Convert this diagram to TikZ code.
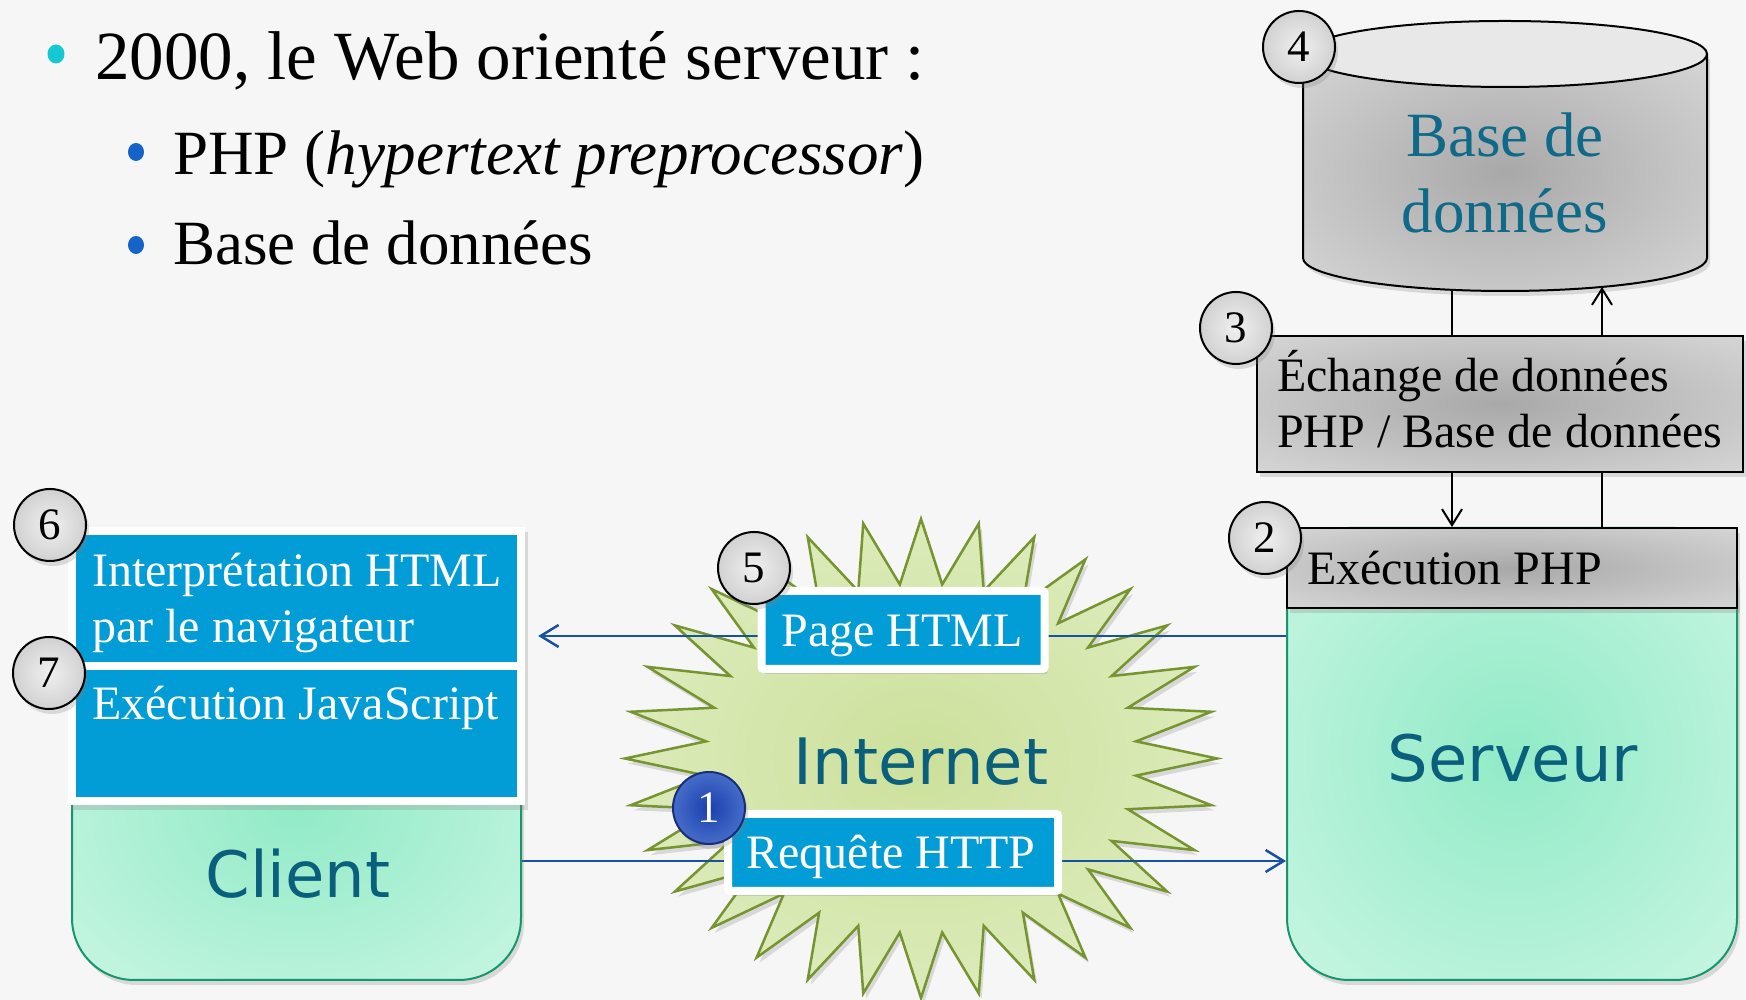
\documentclass[tikz,border=0pt]{standalone}
\usepackage{fontspec}
\setmainfont{Liberation Serif}
\newfontfamily\sansf{DejaVu Sans}
\usetikzlibrary{arrows.meta,shadows,calc}

\definecolor{bgc}{RGB}{246,246,246}
\definecolor{cyanb}{RGB}{20,200,212}
\definecolor{blueb}{RGB}{20,100,200}
\definecolor{tealtxt}{RGB}{10,96,124}
\definecolor{dbteal}{RGB}{14,106,136}
\definecolor{boxblue}{RGB}{2,157,214}
\definecolor{arrowblue}{RGB}{25,80,160}
\definecolor{greenborder}{RGB}{22,150,110}
\definecolor{starline}{RGB}{118,148,48}
\definecolor{navyb}{RGB}{25,45,120}

\pgfdeclareradialshading{grayrad}{\pgfpoint{0bp}{0bp}}{rgb(0bp)=(0.66,0.66,0.66); rgb(50bp)=(0.91,0.91,0.91)}
\pgfdeclareradialshading{ballsh}{\pgfpoint{0bp}{0bp}}{rgb(0bp)=(0.94,0.94,0.94); rgb(25bp)=(0.82,0.82,0.82); rgb(50bp)=(0.58,0.58,0.58)}
\pgfdeclareradialshading{blueball}{\pgfpoint{0bp}{0bp}}{rgb(0bp)=(0.1,0.25,0.68); rgb(50bp)=(0.45,0.6,0.9)}
\pgfdeclareradialshading{starrad}{\pgfpoint{0bp}{0bp}}{rgb(0bp)=(0.80,0.88,0.61); rgb(50bp)=(0.925,0.96,0.845)}
\pgfdeclareradialshading{greenrad}{\pgfpoint{0bp}{0bp}}{rgb(0bp)=(0.57,0.92,0.78); rgb(50bp)=(0.87,0.98,0.93)}

\pgfdeclarelayer{starlayer}
\pgfdeclarelayer{linelayer}
\pgfsetlayers{starlayer,linelayer,main}

\begin{document}
\begin{tikzpicture}[x=1pt,y=1pt,
  fs/.style={font=\fontsize{#1}{#1}\selectfont},
  txt/.style={inner sep=0pt, anchor=base west},
  ctxt/.style={inner sep=0pt, anchor=base},
  shd/.style={drop shadow={opacity=0.25, shadow xshift=3pt, shadow yshift=-5pt}},
  num/.style={circle, draw=black, line width=2pt, shade, shading=ballsh, minimum size=72pt, inner sep=0pt, fs=45, shd},
  numone/.style={num, shading=blueball, draw=navyb, text=white},
  graybox/.style={rectangle, draw=black, line width=2pt, shade, shading=grayrad, inner sep=0pt, shd},
  bluebox/.style={rectangle, fill=boxblue, draw=white, line width=8pt, inner sep=0pt, rounded corners=2pt, shd},
  greenbox/.style={rectangle, draw=greenborder, line width=2pt, shade, shading=greenrad, rounded corners=62pt, inner sep=0pt, shd},
  blk/.style={draw=black, line width=2pt},
  blkarrow/.style={blk, -{Straight Barb[length=16pt,width=20pt]}},
  barrow/.style={draw=arrowblue, line width=2.5pt, -{Straight Barb[length=18pt,width=22pt]}},
  starsh/.style={shade, shading=starrad, draw=starline, line width=2.5pt, shd}
]
\useasboundingbox (0,0) rectangle (1746,1000);

\begin{pgfonlayer}{starlayer}
  \fill[bgc] (0,0) rectangle (1746,1000);
  \path[starsh] plot[variable=\k, samples at={0,...,63}]
    ({921+296*(1-0.27*mod(\k,2))*cos(90+5.625*\k)},
     {241.5+239.5*(1-0.27*mod(\k,2))*sin(90+5.625*\k)}) -- cycle;
\end{pgfonlayer}

% title
\fill[cyanb] (56,946) ellipse[x radius=8.5, y radius=9.5];
\node[txt, fs=69] (t1) at (95,920) {2000, le Web orienté serveur :};
\fill[blueb] (136,848) ellipse[x radius=8, y radius=9];
\node[txt, fs=63] (t2) at (173,825) {PHP (\textit{hypertext preprocessor})};
\fill[blueb] (136,755) ellipse[x radius=8, y radius=9];
\node[txt, fs=63] (t3) at (173,735) {Base de données};

% client and server
\node[greenbox, minimum width=449pt, minimum height=340pt] (client) at (296.5,190) {};
\node[ctxt, fs=64, text=tealtxt] (clientlbl) at (298,102) {\sansf Client};
\node[greenbox, minimum width=450pt, minimum height=452pt] (serv) at (1512,246) {};
\node[ctxt, fs=64, text=tealtxt] (servlbl) at (1513,218) {\sansf Serveur};

% client blue boxes
\node[rectangle, fill=white, inner sep=0pt, minimum width=457pt, minimum height=278pt, shd] (cbox) at (296.5,334) {};
\node[rectangle, fill=boxblue, inner sep=0pt, minimum width=441pt, minimum height=127pt] (interp) at (296.5,401.5) {};
\node[rectangle, fill=boxblue, inner sep=0pt, minimum width=441pt, minimum height=127pt] (js) at (296.5,266.5) {};
\node[txt, fs=48, text=white] (interp1) at (92,413) {Interprétation HTML};
\node[txt, fs=48, text=white] (interp2) at (92,357) {par le navigateur};
\node[txt, fs=48, text=white] (jstxt) at (92,280) {Exécution JavaScript};

% internet
\node[ctxt, fs=64, text=tealtxt] (inet) at (921,215) {\sansf Internet};
\node[bluebox, minimum width=283pt, minimum height=78pt] (page) at (903,370) {};
\node[ctxt, fs=48, text=white] (pagetxt) at (902,353) {Page HTML};
\node[bluebox, minimum width=330pt, minimum height=77pt] (req) at (893,147.5) {};
\node[ctxt, fs=48, text=white] (reqtxt) at (891,131) {Requête HTTP};

\coordinate (pageY) at (0,364);
\coordinate (reqY) at (0,139);
\begin{pgfonlayer}{linelayer}
  \draw[barrow] (serv.west |- pageY) -- ($(cbox.east |- pageY)+(13,0)$);
  \draw[barrow] (client.east |- reqY) -- (serv.west |- reqY);
\end{pgfonlayer}

% database
\path[shade, shading=grayrad, shd] (1303,946) -- (1303,742)
  arc[start angle=180, end angle=360, x radius=202, y radius=33] -- (1707,946) -- cycle;
\draw[blk] (1303,946) -- (1303,742)
  arc[start angle=180, end angle=360, x radius=202, y radius=33] -- (1707,946);
\draw[blk, fill=black!9] (1505,946) ellipse[x radius=202, y radius=33];
\node[ctxt, fs=63, text=dbteal] (db1) at (1505,843) {Base de};
\node[ctxt, fs=63, text=dbteal] (db2) at (1505,767) {données};
\coordinate (dbL) at (1452,710);
\coordinate (dbR) at (1602,713);

\node[graybox, minimum width=486pt, minimum height=136pt] (ech) at (1500,596) {};
\node[txt, fs=48] (ech1) at (1277,608) {Échange de données};
\node[txt, fs=48] (ech2) at (1277,552) {PHP / Base de données};
\node[graybox, minimum width=450pt, minimum height=80pt] (exe) at (1512,432) {};
\node[txt, fs=48] (exetxt) at (1307,415) {Exécution PHP};

\draw[blk] (dbL) -- (dbL |- ech.north);
\draw[blkarrow] (ech.south -| dbL) -- (exe.north -| dbL);
\draw[blk] (exe.north -| dbR) -- (ech.south -| dbR);
\draw[blkarrow] (ech.north -| dbR) -- (dbR);

% numbered circles
\node[num] (n4) at (1299,953) {4};
\node[num] (n3) at (1236,672) {3};
\node[num] (n2) at (1265,462) {2};
\node[num] (n5) at (754,432) {5};
\node[numone] (n1) at (709,192) {1};
\node[num] (n6) at (50,475) {6};
\node[num] (n7) at (49,327) {7};
\end{tikzpicture}
\end{document}
